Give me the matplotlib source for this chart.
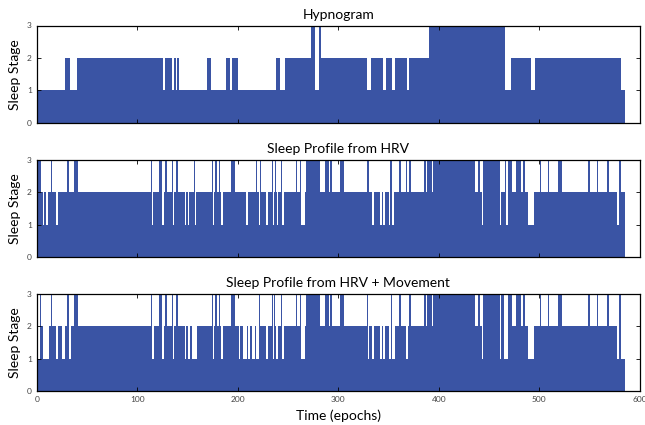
import numpy as np
import matplotlib
matplotlib.use("Agg")
import matplotlib.pyplot as plt

# run-length data: change points (epochs) and stage per run
hyp_bounds = [0, 28, 33, 40, 126, 128, 135, 137, 139, 140, 142, 169, 173, 188, 192, 194,
              200, 238, 242, 247, 273, 277, 281, 283, 329, 333, 344, 347, 353, 356, 368,
              370, 390, 466, 472, 492, 496, 581, 585]
hyp_stages = [1, 2, 1, 2, 1, 2, 1, 2, 1, 2, 1, 2, 1, 2, 1, 2, 1, 2, 1, 2,
              3, 1, 3, 2, 1, 2, 1, 2, 1, 2, 1, 2, 3, 1, 2, 1, 2, 1]

hrv_bounds = [0, 4, 6, 7, 9, 11, 14, 15, 19, 21, 30, 32, 37, 41, 114, 115, 116, 122, 125,
              127, 128, 130, 135, 136, 137, 139, 141, 147, 148, 150, 151, 156, 157, 158,
              174, 175, 176, 177, 179, 181, 182, 183, 185, 193, 197, 208, 210, 218, 219,
              221, 222, 223, 228, 230, 234, 235, 236, 237, 238, 239, 240, 243, 244, 246,
              258, 259, 262, 263, 267, 268, 282, 287, 291, 292, 294, 302, 306, 329, 331,
              334, 336, 341, 343, 344, 346, 350, 351, 353, 355, 360, 362, 367, 368, 370,
              372, 385, 387, 388, 393, 394, 436, 439, 441, 443, 444, 461, 462, 466, 467,
              469, 473, 477, 482, 484, 486, 489, 495, 501, 502, 509, 510, 519, 523, 548,
              550, 557, 558, 567, 569, 577, 579, 581, 585]
hrv_stages = [3, 2, 1, 2, 1, 2, 3, 2, 1, 2, 3, 2, 3, 2, 3, 1, 2, 3,
              1, 2, 3, 2, 3, 1, 2, 3, 2, 1, 2, 1, 2, 3, 1,
              2, 3, 1, 2, 3, 2, 3, 2, 1, 2, 3, 2, 1, 2, 3,
              2, 1, 3, 2, 1, 2, 3, 1, 2, 3, 2, 1, 2, 3, 1,
              2, 3, 2, 3, 1, 2, 3, 2, 3, 2, 3, 2, 3, 2, 3,
              2, 1, 2, 1, 2, 1, 2, 1, 3, 1, 2, 3, 2, 3, 2,
              3, 2, 3, 2, 3, 2, 3, 2, 3, 2, 1, 3, 1, 2, 3,
              1, 3, 2, 3, 2, 3, 2, 1, 2, 3, 2, 3, 2, 3, 2,
              3, 2, 3, 2, 3, 2, 1, 3, 2]

mov_bounds = [0, 3, 4, 6, 12, 14, 15, 19, 21, 25, 28, 30, 32, 34, 37, 41, 114, 115, 117,
              122, 125, 127, 128, 130, 135, 136, 137, 139, 141, 147, 148, 150, 152, 154,
              159, 174, 175, 176, 177, 179, 181, 182, 183, 185, 193, 197, 201, 202, 205,
              209, 210, 212, 214, 217, 218, 221, 222, 228, 230, 234, 235, 236, 237, 238,
              240, 243, 244, 246, 258, 259, 262, 263, 267, 268, 282, 287, 291, 292, 294,
              302, 306, 329, 330, 331, 334, 336, 341, 343, 344, 346, 350, 352, 353, 356,
              360, 362, 367, 369, 370, 372, 385, 387, 388, 393, 394, 436, 439, 441, 443,
              444, 461, 462, 465, 469, 473, 477, 482, 484, 486, 489, 495, 501, 502, 509,
              510, 519, 523, 548, 550, 557, 558, 567, 569, 577, 579, 581, 585]
mov_stages = [1, 3, 2, 1, 2, 3, 2, 1, 2, 1, 2, 3, 1, 2, 3, 2, 3, 1,
              2, 3, 1, 2, 3, 2, 3, 1, 2, 3, 2, 1, 2, 1, 2, 1,
              2, 3, 1, 2, 3, 2, 3, 2, 1, 2, 3, 2, 1, 2, 1,
              2, 1, 2, 1, 2, 1, 3, 2, 1, 2, 3, 1, 3, 2, 1,
              2, 3, 1, 2, 3, 2, 3, 1, 2, 3, 2, 3, 2, 3, 2,
              3, 2, 3, 1, 2, 1, 2, 1, 2, 1, 2, 1, 3, 1, 2,
              3, 2, 1, 2, 3, 2, 3, 2, 3, 2, 3, 2, 3, 2, 1,
              3, 1, 3, 1, 3, 2, 3, 2, 3, 2, 1, 2, 3, 2, 3,
              2, 3, 2, 3, 2, 3, 2, 3, 2, 1, 3, 1]

titles = ["Hypnogram", "Sleep Profile from HRV", "Sleep Profile from HRV + Movement"]
bar_color = "#3a54a4"

plt.rcParams['font.family'] = ['Lato', 'DejaVu Sans']

fig = plt.figure(figsize=(6.45, 4.25), dpi=100)
ax_pos = [[0.057, 0.711, 0.935, 0.229],
          [0.057, 0.395, 0.935, 0.229],
          [0.057, 0.080, 0.935, 0.229]]

series = [(hyp_bounds, hyp_stages), (hrv_bounds, hrv_stages), (mov_bounds, mov_stages)]
for i, (bounds, stages) in enumerate(series):
    ax = fig.add_axes(ax_pos[i])
    vals = np.repeat(stages, np.diff(bounds))
    epochs = np.arange(len(vals))
    ax.bar(epochs, vals, width=1.0, align='edge', color=bar_color, linewidth=0)
    ax.set_xlim(0, 600)
    ax.set_ylim(0, 3)
    ax.set_yticks([0, 1, 2, 3])
    ax.set_xticks(range(0, 601, 100))
    ax.tick_params(direction='in', top=True, right=True, labelsize=6,
                   labelcolor='#444444', length=3, width=0.6)
    if i < 2:
        ax.set_xticklabels([])
    ax.set_title(titles[i], fontsize=10, pad=5)
    ax.set_ylabel("Sleep Stage", fontsize=10, labelpad=4)
    for s in ax.spines.values():
        s.set_linewidth(0.9)
    if i == 2:
        ax.set_xlabel("Time (epochs)", fontsize=10, labelpad=5)

fig.savefig("out.png", dpi=100)
